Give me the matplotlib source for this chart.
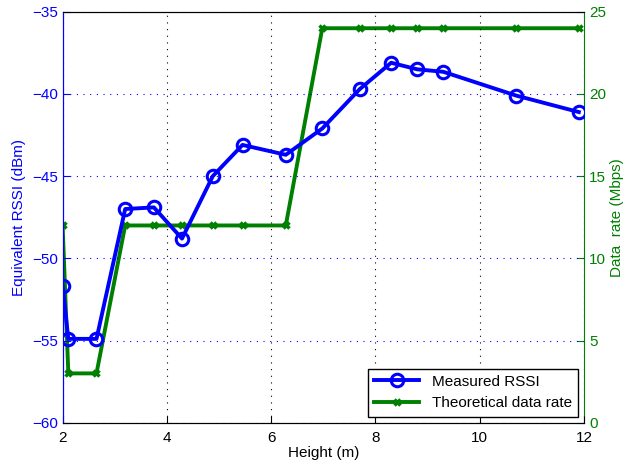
import matplotlib.pyplot as plt

plt.rcParams['font.family'] = ['Liberation Sans', 'DejaVu Sans']

height = [2.0, 2.11, 2.65, 3.2, 3.75, 4.29, 4.88, 5.45, 6.28, 6.98,
          7.7, 8.3, 8.8, 9.3, 10.7, 11.9]
rssi = [-51.7, -54.9, -54.9, -47.0, -46.9, -48.8, -45.0, -43.1, -43.7,
        -42.1, -39.7, -38.1, -38.5, -38.65, -40.1, -41.1]
rate = [12, 3, 3, 12, 12, 12, 12, 12, 12, 24, 24, 24, 24, 24, 24, 24]

blue = (0, 0, 1)
green = (0, 0.5, 0)

fig = plt.figure(figsize=(6.26, 4.68), dpi=100)
ax = fig.add_axes([0.100, 0.0968, 0.833, 0.878])
ax2 = ax.twinx()

l1, = ax.plot(height, rssi, color=blue, lw=2.8, marker='o', ms=9,
              mfc='none', mew=2.2, label='Measured RSSI')
l2, = ax2.plot(height, rate, color=green, lw=2.8, marker='x', ms=5,
               mew=2.5, label='Theoretical data rate')
ax.set_zorder(ax2.get_zorder() + 1)
ax.patch.set_visible(False)

ax.set_xlim(2, 12)
ax.set_ylim(-60, -35)
ax2.set_ylim(0, 25)
ax.set_xticks(range(2, 13, 2))
ax.set_yticks(range(-60, -34, 5))
ax2.set_yticks(range(0, 26, 5))

ax.tick_params(direction='in', labelsize=11, length=5)
ax.tick_params(axis='y', colors=blue)
ax.tick_params(axis='x', colors='black', pad=6)
ax2.tick_params(direction='in', labelsize=11, length=5, colors=green)
ax.spines['left'].set_color(blue)
ax2.spines['left'].set_color(blue)
ax2.spines['right'].set_color(green)
ax.spines['right'].set_visible(False)

ax.xaxis.grid(True, linestyle=(0, (1, 5)), color='black', lw=0.8)
ax.yaxis.grid(True, linestyle=(0, (1, 5)), color=blue, lw=0.8)

ax.set_xlabel('Height (m)', fontsize=11, labelpad=1)
ax.set_ylabel('Equivalent RSSI (dBm)', fontsize=11, color=blue)
ax2.set_ylabel('Data  rate (Mbps)', fontsize=11, color=green, labelpad=3)

leg = ax.legend([l1, l2], ['Measured RSSI', 'Theoretical data rate'],
                loc='lower right', fontsize=11, fancybox=False,
                edgecolor='black', framealpha=1, handlelength=3,
                borderaxespad=0.4)
leg.get_frame().set_linewidth(1)

fig.savefig('out.png', dpi=100)
